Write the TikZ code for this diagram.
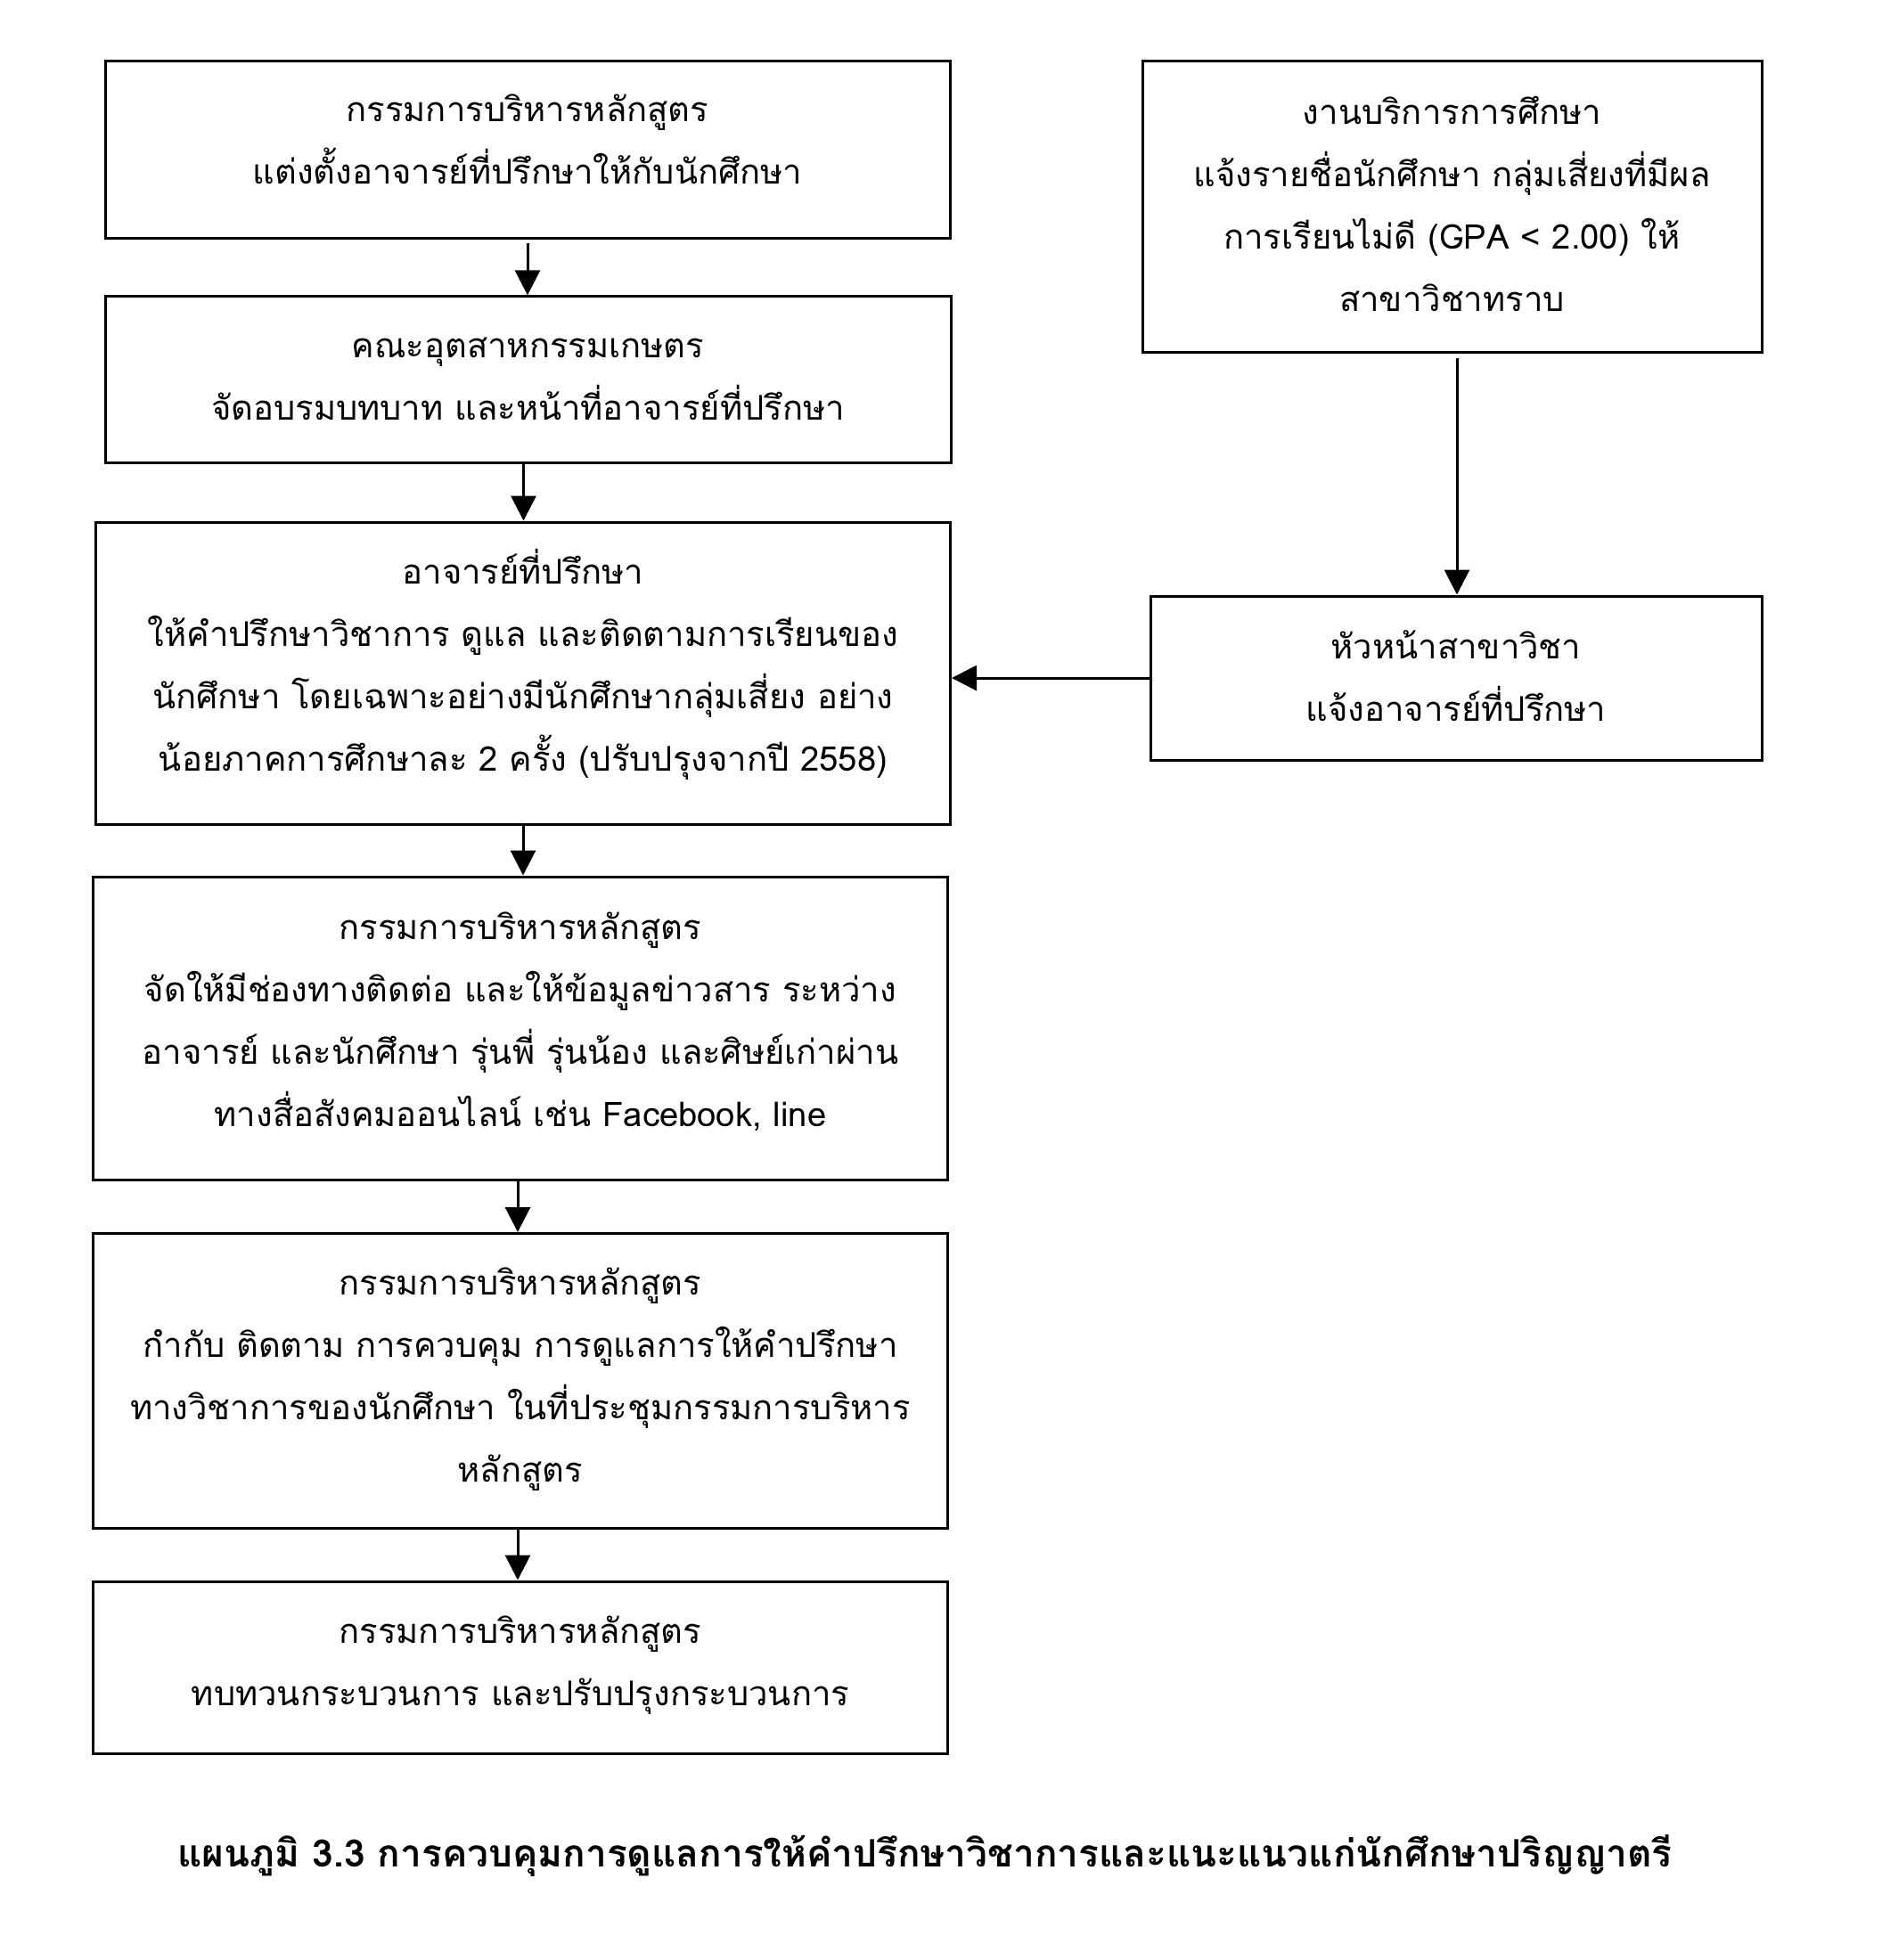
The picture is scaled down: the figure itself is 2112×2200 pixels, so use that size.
\documentclass[tikz,border=0pt]{standalone}
\usepackage{fontspec}
\newfontfamily\thaifont[Script=Thai]{Loma}
\usetikzlibrary{arrows.meta,calc}
\tikzset{
  box/.style={draw=black, line width=0.75pt, inner sep=0pt},
  txt/.style={align=center, inner sep=0pt,
    font=\thaifont\fontsize{9.55}{17.5}\selectfont},
  flow/.style={draw=black, line width=0.75pt, -{Triangle[width=7pt,length=7pt]}},
}
\begin{document}
\begin{tikzpicture}[x=0.25pt,y=-0.25pt]
\useasboundingbox[fill=white] (0,0) rectangle (2112,2200);
% boxes
\node[box, minimum width=237pt, minimum height=49.75pt] (b1) at (592,167.5) {};
\node[box, minimum width=237.25pt, minimum height=46.6pt] (b2) at (592.5,426) {};
\node[box, minimum width=239.75pt, minimum height=84.75pt] (b3) at (587,755.5) {};
\node[box, minimum width=239.9pt, minimum height=85pt] (b4) at (584,1154) {};
\node[box, minimum width=239.9pt, minimum height=82.75pt] (b5) at (584,1550) {};
\node[box, minimum width=239.9pt, minimum height=48.25pt] (b6) at (584,1871.5) {};
\node[box, minimum width=173.75pt, minimum height=81.75pt] (r1) at (1629.5,231.5) {};
\node[box, minimum width=171.5pt, minimum height=46pt] (r2) at (1634,761) {};
% texts
\node[txt] (t1) at ($(b1.center)+(0,-11.5)$)
  {กรรมการบริหารหลักสูตร\\แต่งตั้งอาจารย์ที่ปรึกษาให้กับนักศึกษา};
\node[txt] (t2) at ($(b2.center)+(0,-0.5)$)
  {คณะอุตสาหกรรมเกษตร\\จัดอบรมบทบาท และหน้าที่อาจารย์ที่ปรึกษา};
\node[txt] (t3) at ($(b3.center)+(0,-10)$)
  {อาจารย์ที่ปรึกษา\\ให้คำปรึกษาวิชาการ ดูแล และติดตามการเรียนของ\\นักศึกษา โดยเฉพาะอย่างมีนักศึกษากลุ่มเสี่ยง อย่าง\\น้อยภาคการศึกษาละ 2 ครั้ง (ปรับปรุงจากปี 2558)};
\node[txt] (t4) at ($(b4.center)+(0,-7)$)
  {กรรมการบริหารหลักสูตร\\จัดให้มีช่องทางติดต่อ และให้ข้อมูลข่าวสาร ระหว่าง\\อาจารย์ และนักศึกษา รุ่นพี่ รุ่นน้อง และศิษย์เก่าผ่าน\\ทางสื่อสังคมออนไลน์ เช่น Facebook, line};
\node[txt] (t5) at ($(b5.center)+(0,-2)$)
  {กรรมการบริหารหลักสูตร\\กำกับ ติดตาม การควบคุม การดูแลการให้คำปรึกษา\\ทางวิชาการของนักศึกษา ในที่ประชุมกรรมการบริหาร\\หลักสูตร};
\node[txt] (t6) at ($(b6.center)+(0,-2)$)
  {กรรมการบริหารหลักสูตร\\ทบทวนกระบวนการ และปรับปรุงกระบวนการ};
\node[txt] (tr1) at ($(r1.center)+(0,-3)$)
  {งานบริการการศึกษา\\แจ้งรายชื่อนักศึกษา กลุ่มเสี่ยงที่มีผล\\การเรียนไม่ดี (GPA < 2.00) ให้\\สาขาวิชาทราบ};
\node[txt] (tr2) at ($(r2.center)+(0,-2)$)
  {หัวหน้าสาขาวิชา\\แจ้งอาจารย์ที่ปรึกษา};
\node[font=\thaifont\bfseries\fontsize{10.6}{14}\selectfont] (cap) at (1038,2083)
  {แผนภูมิ 3.3 การควบคุมการดูแลการให้คำปรึกษาวิชาการและแนะแนวแก่นักศึกษาปริญญาตรี};
% connectors
\draw[flow] ($(b1.south)+(0,4)$) -- (b1.south |- b2.north);
\draw[flow] ($(b2.south)+(-5,0)$) -- ($(b2.south |- b3.north)+(-5,0)$);
\draw[flow] (b3.south) -- (b3.south |- b4.north);
\draw[flow] ($(b4.south)+(-3,0)$) -- ($(b4.south |- b5.north)+(-3,0)$);
\draw[flow] ($(b5.south)+(-3,0)$) -- ($(b5.south |- b6.north)+(-3,0)$);
\draw[flow] ($(r2.north |- r1.south)+(1,5)$) -- ($(r2.north)+(1,0)$);
\draw[flow] (r2.west) -- (r2.west -| b3.east);
\end{tikzpicture}
\end{document}
